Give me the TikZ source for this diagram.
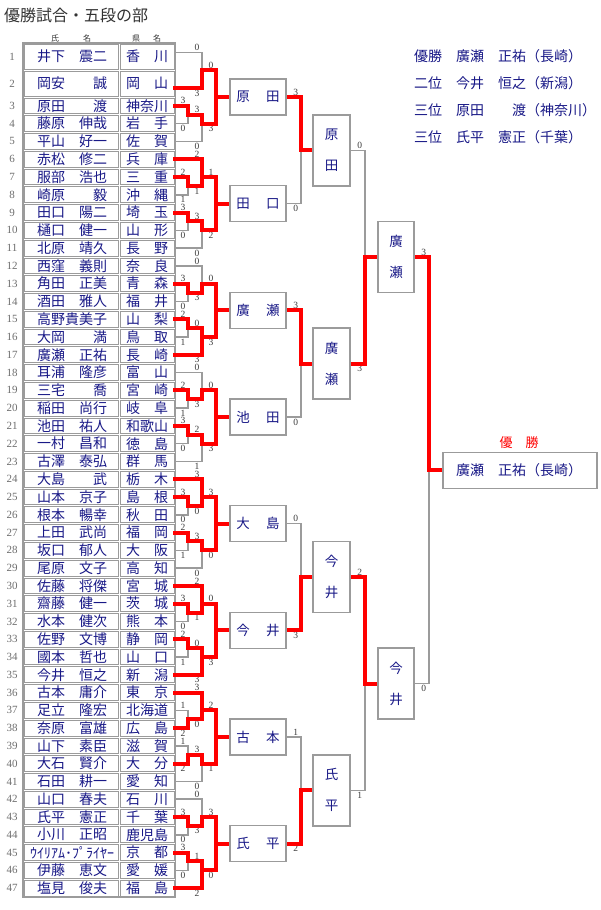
\documentclass[tikz,border=0pt]{standalone}
\usepackage{fontspec}
\setmainfont{Liberation Serif}
\newfontfamily\jpf{Noto Sans CJK JP}
\usetikzlibrary{calc}
\pgfdeclarelayer{top}
\pgfdeclarelayer{fg}
\pgfsetlayers{main,top,fg}
\definecolor{nv}{RGB}{25,25,135}
\definecolor{lg}{RGB}{155,155,155}
\definecolor{rr}{RGB}{255,0,0}
\definecolor{sc}{RGB}{60,60,60}
\definecolor{rn}{RGB}{110,110,110}
\definecolor{tt}{RGB}{50,50,50}
\newcounter{nn}
\newcommand\Cy[1]{(105.89+(#1-3)*17.7778)}
\newcommand\By[1]{(97+(#1-3)*17.7778)}
\newcommand\segrd[1]{\begin{pgfonlayer}{top}\draw[rd] #1;\end{pgfonlayer}}
\newcommand\seggy[1]{\draw[gy] #1;}
\newcommand\seg[2]{\csname seg#1\endcsname{#2}}
% group of six rows starting at #1; #2..#7 colours of rows a..a+5
\newcommand\grp[7]{%
 \seg{#2}{(175,{\Cy{#1}}) -- (202,{\Cy{#1}}) -- (202,{\Cy{#1+1}})}
 \seg{#3}{(175,{\Cy{#1+1}}) -- (188,{\Cy{#1+1}}) -- (188,{\By{#1+2}})}
 \seg{#4}{(175,{\Cy{#1+2}}) -- (188,{\Cy{#1+2}}) -- (188,{\By{#1+2}})}
 \seg{rd}{(188,{\By{#1+2}}) -- (202,{\By{#1+2}}) -- (202,{\Cy{#1+1}}) -- (216,{\Cy{#1+1}})}
 \seg{#5}{(175,{\Cy{#1+3}}) -- (188,{\Cy{#1+3}}) -- (188,{\By{#1+4}})}
 \seg{#6}{(175,{\Cy{#1+4}}) -- (188,{\Cy{#1+4}}) -- (188,{\By{#1+4}})}
 \seg{rd}{(188,{\By{#1+4}}) -- (202,{\By{#1+4}}) -- (202,{\Cy{#1+4}}) -- (216,{\Cy{#1+4}})}
 \seg{#7}{(175,{\Cy{#1+5}}) -- (202,{\Cy{#1+5}}) -- (202,{\Cy{#1+4}})}
 \seg{rd}{(216,{\Cy{#1+1}}) -- (216,{\Cy{#1+4}})}
 \seg{rd}{(216,{\By{#1+3}}) -- (230,{\By{#1+3}})}
}
\newcommand\scA[6]{%
 \node[sco] at (197,{\Cy{#1}-5}) {#2};
 \node[sco] at (183,{\Cy{#1+1}-5}) {#3};
 \node[sco] at (183,{\Cy{#1+2}+5}) {#4};
 \node[sco] at (197,{\By{#1+2}+5}) {#5};
 \node[sco] at (211,{\Cy{#1+1}-5}) {#6};
}
\newcommand\scB[6]{%
 \node[sco] at (183,{\Cy{#1+3}-5}) {#2};
 \node[sco] at (197,{\By{#1+4}-5}) {#3};
 \node[sco] at (183,{\Cy{#1+4}+5}) {#4};
 \node[sco] at (211,{\Cy{#1+4}+5}) {#5};
 \node[sco] at (197,{\Cy{#1+5}+5}) {#6};
}
\tikzset{
  rd/.style={draw=rr, line width=4pt, line cap=rect},
  gy/.style={draw=lg, line width=1.5pt},
  autonm/.style={/utils/exec={\stepcounter{nn}}, name=a\arabic{nn}},
  sco/.style={autonm, font=\fontsize{9.5}{9.5}\selectfont, text=sc, inner sep=0pt},
  cell/.style={draw=lg, line width=1pt},
  nm/.style={font=\jpf\fontsize{14}{14}\selectfont, text=nv, inner sep=0pt},
  rnum/.style={font=\fontsize{11}{11}\selectfont, text=rn, inner sep=0pt},
  hbox/.style={draw=lg, line width=1.5pt, fill=white, minimum width=56pt, minimum height=36pt, inner sep=0pt, font=\jpf\fontsize{13.5}{14}\selectfont, text=nv},
  vbox/.style={hbox, minimum width=37pt, minimum height=71pt, align=center, font=\jpf\fontsize{13.5}{31}\selectfont},
  hd/.style={font=\jpf\fontsize{8}{8}\selectfont, text=tt, inner sep=0pt},
  sumt/.style={font=\jpf\fontsize{14}{14}\selectfont, text=nv, inner sep=0pt, anchor=west},
}
\begin{document}
\begin{tikzpicture}[x=1pt,y=-1pt]
\useasboundingbox[fill=white] (0,0) rectangle (600,910);
% title
\node[font=\jpf\fontsize{16}{16}\selectfont, text=tt, anchor=west, inner sep=0pt] (title) at (4,15) {優勝試合・五段の部};
% headers
\node[hd] (h1) at (55,38.5) {氏};
\node[hd] (h2) at (87,38.5) {名};
\node[hd] (h3) at (136,38.5) {県};
\node[hd] (h4) at (157,38.5) {名};
% table
\draw[cell, line width=1.3pt] (23,43) rectangle (175.5,897);
\draw[cell] (24.5,44.5) rectangle (118.5,69); \draw[cell] (120,44.5) rectangle (174,69);
\draw[cell] (24.5,71) rectangle (118.5,96); \draw[cell] (120,71) rectangle (174,96);
\foreach \r in {3,...,47} {
  \draw[cell] (24.5,{\By{\r}+1}) rectangle (118.5,{\By{\r+1}-1});
  \draw[cell] (120,{\By{\r}+1}) rectangle (174,{\By{\r+1}-1});
  \node[rnum, name=rn\r] at (12,{\Cy{\r}}) {\r};
}
\node[rnum] (rn1) at (12,56.5) {1};
\node[rnum] (rn2) at (12,83.5) {2};
\node[nm] (nm1) at (72,56.5) {井下　震二};
\node[nm] (pf1) at (147,56.5) {香　川};
\node[nm] (nm2) at (72,83.5) {岡安　　誠};
\node[nm] (pf2) at (147,83.5) {岡　山};
\foreach \r/\n/\p in {3/原田　　渡/神奈川, 4/藤原　伸哉/岩　手, 5/平山　好一/佐　賀,
  6/赤松　修二/兵　庫, 7/服部　浩也/三　重, 8/崎原　　毅/沖　縄, 9/田口　陽二/埼　玉,
  10/樋口　健一/山　形, 11/北原　靖久/長　野, 12/西窪　義則/奈　良, 13/角田　正美/青　森,
  14/酒田　雅人/福　井, 15/高野貴美子/山　梨, 16/大岡　　満/鳥　取, 17/廣瀬　正祐/長　崎,
  18/耳浦　隆彦/富　山, 19/三宅　　喬/宮　崎, 20/稲田　尚行/岐　阜, 21/池田　祐人/和歌山,
  22/一村　昌和/徳　島, 23/古澤　泰弘/群　馬, 24/大島　　武/栃　木, 25/山本　京子/島　根,
  26/根本　暢幸/秋　田, 27/上田　武尚/福　岡, 28/坂口　郁人/大　阪, 29/尾原　文子/高　知,
  30/佐藤　将傑/宮　城, 31/齋藤　健一/茨　城, 32/水本　健次/熊　本, 33/佐野　文博/静　岡,
  34/國本　哲也/山　口, 35/今井　恒之/新　潟, 36/古本　庸介/東　京, 37/足立　隆宏/北海道,
  38/奈原　富雄/広　島, 39/山下　素臣/滋　賀, 40/大石　賢介/大　分, 41/石田　耕一/愛　知,
  42/山口　春夫/石　川, 43/氏平　憲正/千　葉, 44/小川　正昭/鹿児島, 45/ｳｲﾘｱﾑ･ﾌﾟﾗｲﾔｰ/京　都,
  46/伊藤　恵文/愛　媛, 47/塩見　俊夫/福　島} {
  \node[nm, name=nm\r] at (72,{\Cy{\r}}) {\n};
  \node[nm, name=pf\r] at (147,{\Cy{\r}}) {\p};
}
% ---------- boxes ----------
\begin{pgfonlayer}{fg}
\node[hbox] (b1) at (258,97) {原\hspace{16.5pt}田};
\node[hbox] (b2) at (258,203.67) {田\hspace{16.5pt}口};
\node[hbox] (b3) at (258,310.33) {廣\hspace{16.5pt}瀬};
\node[hbox] (b4) at (258,417) {池\hspace{16.5pt}田};
\node[hbox] (b5) at (258,523.67) {大\hspace{16.5pt}島};
\node[hbox] (b6) at (258,630.33) {今\hspace{16.5pt}井};
\node[hbox] (b7) at (258,737) {古\hspace{16.5pt}本};
\node[hbox] (b8) at (258,843.67) {氏\hspace{16.5pt}平};
\node[vbox] (c1) at (331.5,150.33) {原\\田};
\node[vbox] (c2) at (331.5,363.67) {廣\\瀬};
\node[vbox] (c3) at (331.5,577) {今\\井};
\node[vbox] (c4) at (331.5,790.33) {氏\\平};
\node[vbox, minimum width=36pt] (d1) at (396,257) {廣\\瀬};
\node[vbox, minimum width=36pt] (d2) at (396,683.67) {今\\井};
\node[hbox, minimum width=154pt, anchor=west] (f) at (442,470.33) {};
\node[sumt] (ft) at (456,470.33) {廣瀬　正祐（長崎）};
\node[font=\jpf\fontsize{13}{13}\selectfont, text=rr, inner sep=0pt] (flab) at (519,443) {優　勝};
\end{pgfonlayer}
% ---------- group 1 ----------
\seg{gy}{(175,52.7) -- (202,52.7) -- (202,70)}
\seg{rd}{(175,88) -- (202,88) -- (202,70) -- (216,70)}
\seg{rd}{(175,{\Cy{3}}) -- (188,{\Cy{3}}) -- (188,{\By{4}}) -- (202,{\By{4}}) -- (202,{\Cy{4}}) -- (216,{\Cy{4}})}
\seg{gy}{(175,{\Cy{4}}) -- (188,{\Cy{4}}) -- (188,{\By{4}})}
\seg{gy}{(175,{\Cy{5}}) -- (202,{\Cy{5}}) -- (202,{\Cy{4}})}
\seg{rd}{(216,70) -- (216,{\Cy{4}})}
\seg{rd}{(216,97) -- (230,97)}
\node[sco] at (197,47.7) {0};
\node[sco] at (197,93) {3};
\node[sco] at (211,65) {0};
\node[sco] at (183,{\Cy{3}-5}) {3};
\node[sco] at (197,{\By{4}-5}) {3};
\node[sco] at (183,{\Cy{4}+5}) {0};
\node[sco] at (211,{\Cy{4}+5}) {3};
\node[sco] at (197,{\Cy{5}+5}) {0};
% ---------- groups 2..8 ----------
\grp{6}{rd}{rd}{gy}{rd}{gy}{gy}
\scA{6}{2}{2}{1}{1}{1} \scB{6}{3}{3}{0}{2}{0}
\grp{12}{gy}{rd}{gy}{rd}{gy}{rd}
\scA{12}{0}{3}{0}{3}{0} \scB{12}{2}{0}{1}{3}{3}
\grp{18}{gy}{rd}{gy}{rd}{gy}{gy}
\scA{18}{0}{2}{1}{3}{0} \scB{18}{3}{2}{0}{3}{1}
\grp{24}{rd}{rd}{gy}{rd}{gy}{gy}
\scA{24}{3}{3}{0}{0}{3} \scB{24}{2}{3}{1}{0}{0}
\grp{30}{rd}{rd}{gy}{rd}{gy}{rd}
\scA{30}{2}{3}{0}{1}{0} \scB{30}{2}{0}{1}{3}{3}
\grp{36}{rd}{gy}{rd}{gy}{rd}{gy}
\scA{36}{3}{1}{2}{0}{2} \scB{36}{1}{3}{2}{1}{0}
\grp{42}{gy}{rd}{gy}{rd}{gy}{rd}
\scA{42}{0}{3}{0}{3}{3} \scB{42}{3}{1}{0}{0}{2}
% ---------- upper rounds ----------
\seg{rd}{(b1.east) -- ++(14,0) |- (c1.west)}
\seg{gy}{(b2.east) -- ++(14,0) |- (c1.west)}
\seg{rd}{(b3.east) -- ++(14,0) |- (c2.west)}
\seg{gy}{(b4.east) -- ++(14,0) |- (c2.west)}
\seg{gy}{(b5.east) -- ++(14,0) |- (c3.west)}
\seg{rd}{(b6.east) -- ++(14,0) |- (c3.west)}
\seg{gy}{(b7.east) -- ++(14,0) |- (c4.west)}
\seg{rd}{(b8.east) -- ++(14,0) |- (c4.west)}
\seg{gy}{(c1.east) -- ++(14,0) |- (d1.west)}
\seg{rd}{(c2.east) -- ++(14,0) |- (d1.west)}
\seg{rd}{(c3.east) -- ++(14,0) |- (d2.west)}
\seg{gy}{(c4.east) -- ++(14,0) |- (d2.west)}
\seg{rd}{(d1.east) -- ++(14,0) |- (f.west)}
\seg{gy}{(d2.east) -- ++(14,0) |- (f.west)}
\node[sco] at ($(b1.east)+(9,-5)$) {3};
\node[sco] at ($(b2.east)+(9,5)$) {0};
\node[sco] at ($(b3.east)+(9,-5)$) {3};
\node[sco] at ($(b4.east)+(9,5)$) {0};
\node[sco] at ($(b5.east)+(9,-5)$) {0};
\node[sco] at ($(b6.east)+(9,5)$) {3};
\node[sco] at ($(b7.east)+(9,-5)$) {1};
\node[sco] at ($(b8.east)+(9,5)$) {2};
\node[sco] at ($(c1.east)+(9,-5)$) {0};
\node[sco] at ($(c2.east)+(9,5)$) {3};
\node[sco] at ($(c3.east)+(9,-5)$) {2};
\node[sco] at ($(c4.east)+(9,5)$) {1};
\node[sco] at ($(d1.east)+(9,-5)$) {3};
\node[sco] at ($(d2.east)+(9,5)$) {0};
% ---------- summary ----------
\node[sumt] (s1) at (414,56) {優勝　廣瀬　正祐（長崎）};
\node[sumt] (s2) at (414,83) {二位　今井　恒之（新潟）};
\node[sumt] (s3) at (414,110) {三位　原田　　渡（神奈川）};
\node[sumt] (s4) at (414,137) {三位　氏平　憲正（千葉）};
\end{tikzpicture}
\end{document}
